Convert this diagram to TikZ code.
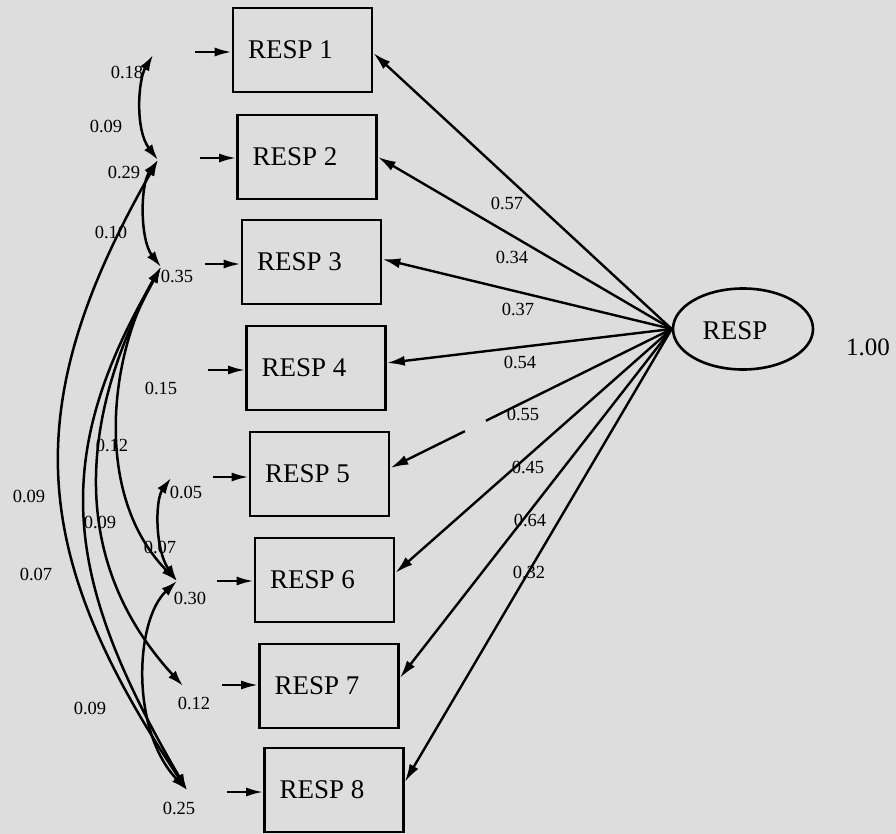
\documentclass[tikz,border=0pt]{standalone}
\usepackage{fontspec}
\setmainfont{Liberation Serif}
\usetikzlibrary{shapes.geometric,arrows.meta,calc}
\definecolor{bg}{RGB}{221,221,221}
\begin{document}
\begin{tikzpicture}[x=1pt,y=-1pt,
  box/.style={draw,line width=2.6pt,minimum width=139pt,minimum height=84pt,inner sep=0pt},
  boxtxt/.style={font=\fontsize{27}{30}\selectfont,inner sep=0pt},
  num/.style={font=\fontsize{18.5}{20}\selectfont,inner sep=0pt},
  load/.style={line width=2.4pt,-{Latex[length=18pt,width=10pt]}},
  errarrow/.style={line width=2.4pt,-{Latex[length=17pt,width=9pt]}},
  cov/.style={line width=2.5pt,{Latex[length=16pt,width=10pt]}-{Latex[length=16pt,width=10pt]}},
]
\fill[bg] (0,0) rectangle (896,834);
\useasboundingbox (0,0) rectangle (896,834);

% observed variables
\node[box] (b1) at (302.5,50) {};
\node[box] (b2) at (307,157) {};
\node[box] (b3) at (311.5,262) {};
\node[box] (b4) at (316,368) {};
\node[box] (b5) at (319.5,474) {};
\node[box] (b6) at (324.5,580) {};
\node[box] (b7) at (329,686) {};
\node[box] (b8) at (334,790) {};
\node[boxtxt] (t1) at ($(b1)+(-12,0)$) {RESP 1};
\node[boxtxt] (t2) at ($(b2)+(-12,0)$) {RESP 2};
\node[boxtxt] (t3) at ($(b3)+(-12,0)$) {RESP 3};
\node[boxtxt] (t4) at ($(b4)+(-12,0)$) {RESP 4};
\node[boxtxt] (t5) at ($(b5)+(-12,0)$) {RESP 5};
\node[boxtxt] (t6) at ($(b6)+(-12,0)$) {RESP 6};
\node[boxtxt] (t7) at ($(b7)+(-12,0)$) {RESP 7};
\node[boxtxt] (t8) at ($(b8)+(-12,0)$) {RESP 8};

% latent variable
\node[draw,ellipse,line width=2.6pt,minimum width=140pt,minimum height=81pt,inner sep=0pt] (R) at (743,329) {};
\node[boxtxt] (Rt) at (735,331) {RESP};
\node[font=\fontsize{25}{28}\selectfont,inner sep=0pt] (Rvar) at (868,347) {1.00};

% loadings
\draw[load] (R.west) -- ([yshift=-3pt]b1.east);
\draw[load] (R.west) -- (b2.east);
\draw[load] (R.west) -- ([yshift=3pt]b3.east);
\draw[load] (R.west) -- ([yshift=5pt]b4.east);
\coordinate (g1) at ($(R.west)!0.66!([yshift=6pt]b5.east)$);
\coordinate (g2) at ($(R.west)!0.735!([yshift=6pt]b5.east)$);
\draw[line width=2.4pt] (R.west) -- (g1);
\draw[load] (g2) -- ([yshift=6pt]b5.east);
\draw[load] (R.west) -- ([yshift=7pt]b6.east);
\draw[load] (R.west) -- ([yshift=8pt]b7.east);
\draw[load] (R.west) -- ([yshift=8pt]b8.east);

\node[num] (l1) at (507,203) {0.57};
\node[num] (l2) at (512,257) {0.34};
\node[num] (l3) at (518,309) {0.37};
\node[num] (l4) at (520,362) {0.54};
\node[num] (l5) at (523,414) {0.55};
\node[num] (l6) at (528,467) {0.45};
\node[num] (l7) at (530,520) {0.64};
\node[num] (l8) at (529,572) {0.32};

% error arrows
\coordinate (s1) at (195,52);
\coordinate (s2) at (200,158);
\coordinate (s3) at (205,264);
\coordinate (s4) at (208,370);
\coordinate (s5) at (213,477);
\coordinate (s6) at (217,581);
\coordinate (s7) at (222,685);
\coordinate (s8) at (227,792);
\draw[errarrow] (s1) -- (s1 -| b1.west);
\draw[errarrow] (s2) -- (s2 -| b2.west);
\draw[errarrow] (s3) -- (s3 -| b3.west);
\draw[errarrow] (s4) -- (s4 -| b4.west);
\draw[errarrow] (s5) -- (s5 -| b5.west);
\draw[errarrow] (s6) -- (s6 -| b6.west);
\draw[errarrow] (s7) -- (s7 -| b7.west);
\draw[errarrow] (s8) -- (s8 -| b8.west);

% error variances
\node[num] (v1) at (127,72) {0.18};
\node[num] (v2) at (124,172) {0.29};
\node[num] (v3) at (177,276) {0.35};
\node[num] (v4) at (161,388) {0.15};
\node[num] (v5) at (186,492) {0.05};
\node[num] (v6) at (190,598) {0.30};
\node[num] (v7) at (194,703) {0.12};
\node[num] (v8) at (179,808) {0.25};

% covariance end points
\coordinate (e1) at (153,55);
\coordinate (e2) at (158,160);
\coordinate (e3) at (161,267);
\coordinate (e5) at (171,478);
\coordinate (e6) at (177,581);
\coordinate (e7) at (183,686);
\coordinate (e8) at (187,790);

\draw[cov] (e1) .. controls (138,80) and (135,130) .. (e2);
\draw[cov] (e2) .. controls (140,185) and (140,240) .. (e3);
\draw[cov] (e2) .. controls (16,408) and (30,555) .. (e8);
\draw[cov] (e3) .. controls (50,458) and (62,576) .. (e8);
\draw[cov] (e3) .. controls (87,402) and (60,552) .. (e7);
\draw[cov] (e3) .. controls (110,353) and (92,495) .. (e6);
\draw[cov] (e5) .. controls (155,500) and (155,550) .. (e6);
\draw[cov] (e6) .. controls (135,620) and (130,730) .. (e8);

% covariance labels
\node[num] (c12) at (106,126) {0.09};
\node[num] (c23) at (111,232) {0.10};
\node[num] (c36) at (112,445) {0.12};
\node[num] (c28) at (29,496) {0.09};
\node[num] (c37) at (100,522) {0.09};
\node[num] (c56) at (160,547) {0.07};
\node[num] (c38) at (36,574) {0.07};
\node[num] (c68) at (90,708) {0.09};
\end{tikzpicture}
\end{document}
